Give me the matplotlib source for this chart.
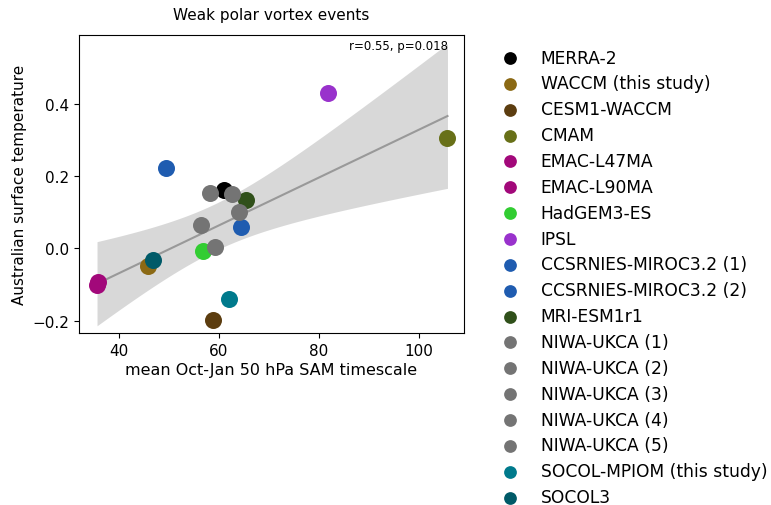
import numpy as np
import matplotlib
matplotlib.use("Agg")
import matplotlib.pyplot as plt

plt.rcParams["font.family"] = ["DejaVu Sans"]

# data
modelos = [
    "MERRA-2", "WACCM (this study)", "CESM1-WACCM", "CMAM",
    "EMAC-L47MA", "EMAC-L90MA", "HadGEM3-ES", "IPSL",
    "CCSRNIES-MIROC3.2 (1)", "CCSRNIES-MIROC3.2 (2)", "MRI-ESM1r1",
    "NIWA-UKCA (1)", "NIWA-UKCA (2)", "NIWA-UKCA (3)", "NIWA-UKCA (4)",
    "NIWA-UKCA (5)", "SOCOL-MPIOM (this study)", "SOCOL3",
]
escala_sam = [
    60.9, 45.7, 58.7, 105.7,
    35.6, 35.8, 56.7, 81.7,
    49.4, 64.4, 65.3,
    58.2, 62.5, 63.9, 56.4,
    59.2, 62.0, 46.8,
]
temp_aus = [
    0.161, -0.050, -0.197, 0.304,
    -0.100, -0.093, -0.007, 0.430,
    0.221, 0.059, 0.134,
    0.153, 0.150, 0.100, 0.066,
    0.004, -0.140, -0.031,
]
cores = [
    "#000000", "#8b6914", "#5c3d10", "#687018",
    "#a2087a", "#a2087a", "#32cd32", "#9932cc",
    "#1f5cb0", "#1f5cb0", "#30501a",
    "#747474", "#747474", "#747474", "#747474",
    "#747474", "#007a8c", "#005a68",
]
texto_stats = "r=0.55, p=0.018"

x = np.array(escala_sam)
y = np.array(temp_aus)

# regression over the models only (reanalysis excluded)
xm = x[1:]
ym = y[1:]
n = len(xm)
a, b = np.polyfit(xm, ym, 1)
xs = np.linspace(xm.min(), xm.max(), 100)
ys = a * xs + b
res = ym - (a * xm + b)
s = np.sqrt(np.sum(res ** 2) / (n - 2))
sxx = np.sum((xm - xm.mean()) ** 2)
t_crit = 2.120  # t(0.975, 16)
meia = t_crit * s * np.sqrt(1.0 / n + (xs - xm.mean()) ** 2 / sxx)

fig = plt.figure(figsize=(7.71, 5.06), dpi=100)
ax = fig.add_axes([0.1025, 0.3393, 0.4993, 0.5901])

ax.fill_between(xs, ys - meia, ys + meia, color="grey", alpha=0.3, lw=0, zorder=1)
ax.plot(xs, ys, color="#999999", lw=1.5, zorder=2)

for nome, xi, yi, c in zip(modelos, x, y, cores):
    ax.scatter(xi, yi, s=150, color=c, label=nome, zorder=3, linewidths=0)

ax.set_xticks([40, 60, 80, 100])
ax.set_yticks([-0.2, 0.0, 0.2, 0.4])
ax.set_xlim(32.0, 109.0)
ax.set_ylim(-0.235, 0.591)
ax.tick_params(labelsize=11)
ax.set_xlabel("mean Oct-Jan 50 hPa SAM timescale", fontsize=11.5, labelpad=3)
ax.set_ylabel("Australian surface temperature", fontsize=11)
ax.set_title("Weak polar vortex events", fontsize=11, pad=11)
ax.text(0.958, 0.965, texto_stats, transform=ax.transAxes,
        ha="right", va="center", fontsize=8.5)

fig.legend(loc="center left", bbox_to_anchor=(0.6195, 0.45), frameon=False,
           fontsize=12.3, markerscale=0.75, labelspacing=0.46,
           handletextpad=0.8)

fig.savefig("out.png", dpi=100)
